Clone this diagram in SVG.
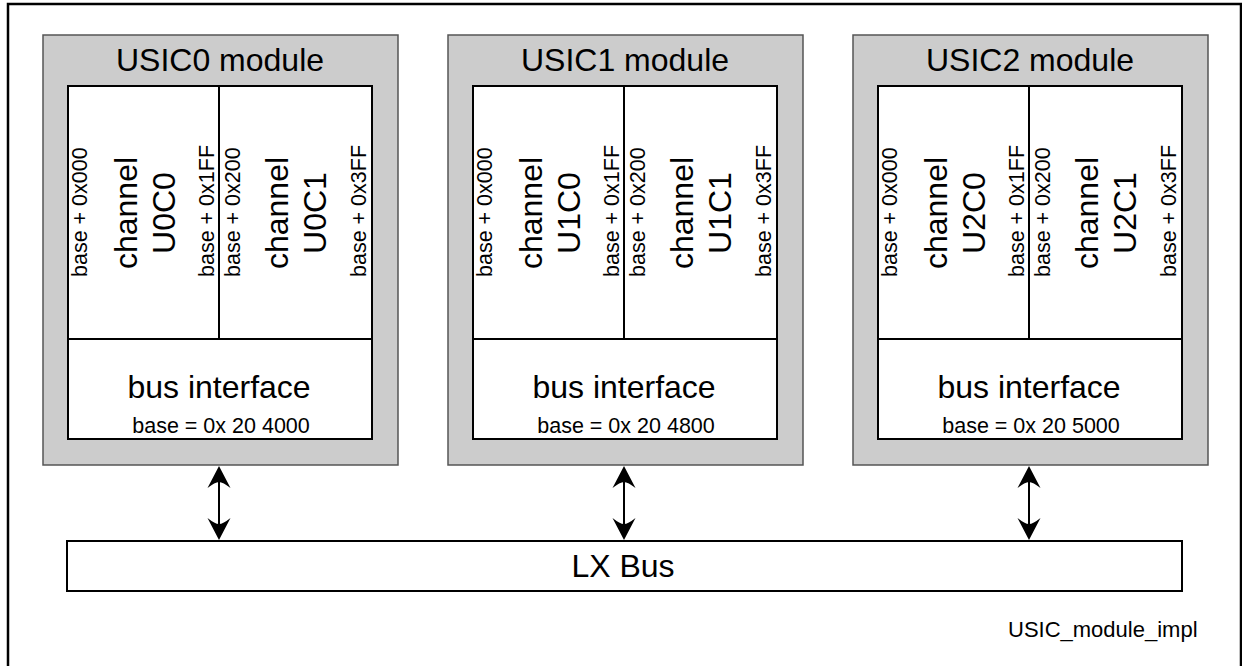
<svg xmlns="http://www.w3.org/2000/svg" width="1242" height="666" viewBox="0 0 1242 666">
<style>
.frame{fill:#fff;stroke:#000;stroke-width:2.5}
.mod{fill:#cccccc;stroke:#555;stroke-width:1.5}
.box{fill:#fff;stroke:#000;stroke-width:2}
.ln{stroke:#000;stroke-width:2;fill:none}
text{font-family:"Liberation Sans",Arial,sans-serif;fill:#000}
.big{font-size:32px;text-anchor:middle}
.sm{font-size:21.5px}
.mid{text-anchor:middle}
.ah{fill:#000;stroke:none}
</style>
<defs>
<g id="arrow">
<line x1="0" y1="480" x2="0" y2="528" class="ln"/>
<path class="ah" d="M0,466 L11.5,488 Q4,482 0,482 Q-4,482 -11.5,488 Z"/>
<path class="ah" d="M0,540 L11.5,518 Q4,524 0,524 Q-4,524 -11.5,518 Z"/>
</g>
</defs>
<rect class="frame" x="8" y="4" width="1233" height="690"/>

<g id="usic0">
<rect class="mod" x="43" y="35" width="355" height="430"/>
<text class="big" x="220" y="71">USIC0 module</text>
<rect class="box" x="68" y="86" width="304" height="353"/>
<line class="ln" x1="219" y1="86" x2="219" y2="339"/>
<line class="ln" x1="68" y1="339" x2="372" y2="339"/>
<text class="sm" transform="translate(87,277) rotate(-90)">base + 0x000</text>
<text class="sm" transform="translate(214,277) rotate(-90)">base + 0x1FF</text>
<text class="sm" transform="translate(240,277) rotate(-90)">base + 0x200</text>
<text class="sm" transform="translate(366,277) rotate(-90)">base + 0x3FF</text>
<text class="big" transform="translate(137,213) rotate(-90)">channel</text>
<text class="big" transform="translate(175,213) rotate(-90)">U0C0</text>
<text class="big" transform="translate(288,213) rotate(-90)">channel</text>
<text class="big" transform="translate(326,213) rotate(-90)">U0C1</text>
<text class="big" x="219" y="398">bus interface</text>
<text class="sm mid" x="221" y="433">base = 0x 20 4000</text>
</g>

<g id="usic1" transform="translate(405,0)">
<rect class="mod" x="43" y="35" width="355" height="430"/>
<text class="big" x="220" y="71">USIC1 module</text>
<rect class="box" x="68" y="86" width="304" height="353"/>
<line class="ln" x1="219" y1="86" x2="219" y2="339"/>
<line class="ln" x1="68" y1="339" x2="372" y2="339"/>
<text class="sm" transform="translate(87,277) rotate(-90)">base + 0x000</text>
<text class="sm" transform="translate(214,277) rotate(-90)">base + 0x1FF</text>
<text class="sm" transform="translate(240,277) rotate(-90)">base + 0x200</text>
<text class="sm" transform="translate(366,277) rotate(-90)">base + 0x3FF</text>
<text class="big" transform="translate(137,213) rotate(-90)">channel</text>
<text class="big" transform="translate(175,213) rotate(-90)">U1C0</text>
<text class="big" transform="translate(288,213) rotate(-90)">channel</text>
<text class="big" transform="translate(326,213) rotate(-90)">U1C1</text>
<text class="big" x="219" y="398">bus interface</text>
<text class="sm mid" x="221" y="433">base = 0x 20 4800</text>
</g>

<g id="usic2" transform="translate(810,0)">
<rect class="mod" x="43" y="35" width="355" height="430"/>
<text class="big" x="220" y="71">USIC2 module</text>
<rect class="box" x="68" y="86" width="304" height="353"/>
<line class="ln" x1="219" y1="86" x2="219" y2="339"/>
<line class="ln" x1="68" y1="339" x2="372" y2="339"/>
<text class="sm" transform="translate(87,277) rotate(-90)">base + 0x000</text>
<text class="sm" transform="translate(214,277) rotate(-90)">base + 0x1FF</text>
<text class="sm" transform="translate(240,277) rotate(-90)">base + 0x200</text>
<text class="sm" transform="translate(366,277) rotate(-90)">base + 0x3FF</text>
<text class="big" transform="translate(137,213) rotate(-90)">channel</text>
<text class="big" transform="translate(175,213) rotate(-90)">U2C0</text>
<text class="big" transform="translate(288,213) rotate(-90)">channel</text>
<text class="big" transform="translate(326,213) rotate(-90)">U2C1</text>
<text class="big" x="219" y="398">bus interface</text>
<text class="sm mid" x="221" y="433">base = 0x 20 5000</text>
</g>

<g id="lxbus">
<rect class="box" x="67" y="541" width="1115" height="50"/>
<text class="big" x="623" y="577">LX Bus</text>
</g>

<g id="connectors">
<use href="#arrow" x="219" y="0"/>
<use href="#arrow" x="624" y="0"/>
<use href="#arrow" x="1029" y="0"/>
</g>

<text x="1008" y="637" style="font-size:22px">USIC_module_impl</text>
</svg>
